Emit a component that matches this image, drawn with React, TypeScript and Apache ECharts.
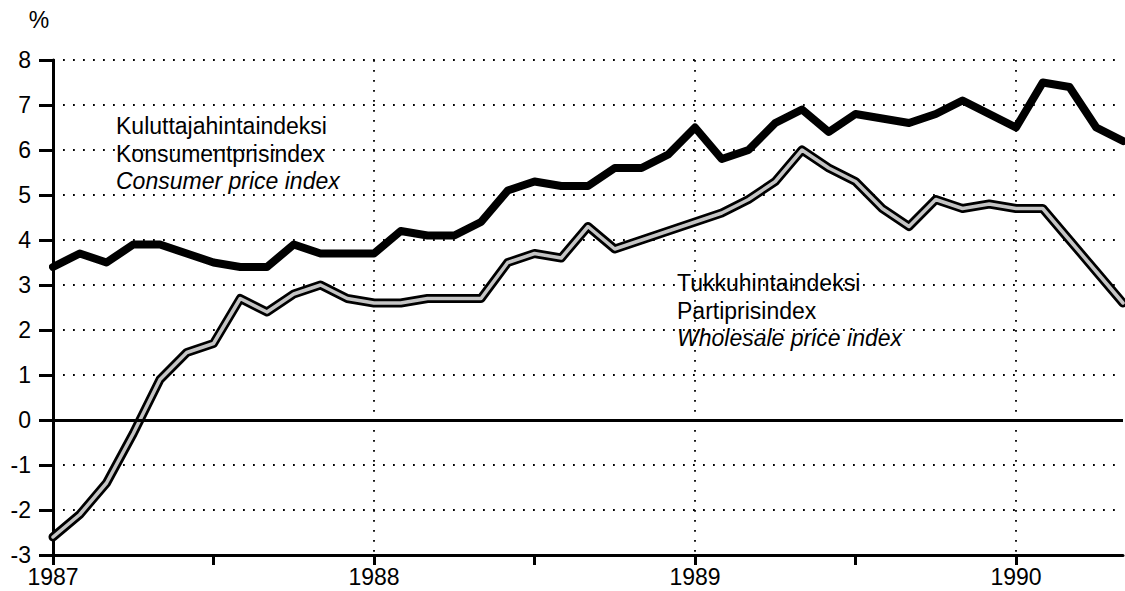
import React, { useEffect, useRef } from "react";
import * as echarts from "echarts";

const months: string[] = [
  "1987-01", "1987-02", "1987-03", "1987-04", "1987-05", "1987-06",
  "1987-07", "1987-08", "1987-09", "1987-10", "1987-11", "1987-12",
  "1988-01", "1988-02", "1988-03", "1988-04", "1988-05", "1988-06",
  "1988-07", "1988-08", "1988-09", "1988-10", "1988-11", "1988-12",
  "1989-01", "1989-02", "1989-03", "1989-04", "1989-05", "1989-06",
  "1989-07", "1989-08", "1989-09", "1989-10", "1989-11", "1989-12",
  "1990-01", "1990-02", "1990-03", "1990-04", "1990-05",
];

const consumerPrice: number[] = [
  3.4, 3.7, 3.5, 3.9, 3.9, 3.7, 3.5, 3.4, 3.4, 3.9, 3.7, 3.7,
  3.7, 4.2, 4.1, 4.1, 4.4, 5.1, 5.3, 5.2, 5.2, 5.6, 5.6, 5.9,
  6.5, 5.8, 6.0, 6.6, 6.9, 6.4, 6.8, 6.7, 6.6, 6.8, 7.1, 6.8,
  6.5, 7.5, 7.4, 6.5, 6.2,
];

const wholesalePrice: number[] = [
  -2.6, -2.1, -1.4, -0.3, 0.9, 1.5, 1.7, 2.7, 2.4, 2.8, 3.0, 2.7,
  2.6, 2.6, 2.7, 2.7, 2.7, 3.5, 3.7, 3.6, 4.3, 3.8, 4.0, 4.2,
  4.4, 4.6, 4.9, 5.3, 6.0, 5.6, 5.3, 4.7, 4.3, 4.9, 4.7, 4.8,
  4.7, 4.7, 4.0, 3.3, 2.6,
];

const consumerLabels: string[] = ["Kuluttajahintaindeksi", "Konsumentprisindex", "Consumer price index"];
const wholesaleLabels: string[] = ["Tukkuhintaindeksi", "Partiprisindex", "Wholesale price index"];

const FONT = "'Liberation Sans', Arial, Helvetica, sans-serif";

export default function App() {
  const ref = useRef<HTMLDivElement>(null);

  useEffect(() => {
    if (!ref.current) return;
    const chart = echarts.init(ref.current, undefined, { renderer: "svg" });

    const dotted = { color: "#000", width: 1.8, type: [1.8, 8.2] as number[] };

    const textEl = (txt: string, x: number, y: number, italic: boolean, align: string = "left") => ({
      type: "text",
      x,
      y,
      silent: true,
      z: 10,
      style: {
        text: txt,
        fill: "#000",
        font: `${italic ? "italic " : ""}23px ${FONT}`,
        align,
        verticalAlign: "middle",
        textAlign: align,
        textVerticalAlign: "middle",
      },
    });

    const option: any = {
      animation: false,
      backgroundColor: "#fff",
      grid: { left: 53, right: 2, top: 60, bottom: 36, containLabel: false },
      xAxis: {
        type: "category",
        data: months,
        boundaryGap: false,
        axisLine: { show: true, onZero: false, lineStyle: { color: "#000", width: 3 } },
        axisTick: {
          show: true,
          interval: (i: number) => i % 6 === 0,
          length: 10,
          lineStyle: { color: "#000", width: 3 },
        },
        axisLabel: {
          show: true,
          interval: (i: number) => i % 12 === 0,
          formatter: (v: string) => (v.endsWith("-01") ? v.slice(0, 4) : ""),
          color: "#000",
          fontSize: 23,
          fontFamily: FONT,
          margin: 10,
        },
        splitLine: {
          show: true,
          interval: (i: number) => i % 12 === 0 && i > 0,
          lineStyle: dotted,
        },
      },
      yAxis: {
        type: "value",
        min: -3,
        max: 8,
        interval: 1,
        axisLine: { show: true, lineStyle: { color: "#000", width: 3 } },
        axisTick: { show: true, length: 14, lineStyle: { color: "#000", width: 3 } },
        axisLabel: { color: "#000", fontSize: 23, fontFamily: FONT, margin: 22 },
        splitLine: { show: true, lineStyle: dotted },
      },
      series: [
        {
          name: "zero",
          type: "line",
          data: consumerPrice,
          symbol: "none",
          silent: true,
          z: 1,
          lineStyle: { width: 0, opacity: 0 },
          markLine: {
            silent: true,
            symbol: ["none", "none"],
            label: { show: false },
            lineStyle: { color: "#000", width: 3, type: "solid" },
            data: [{ yAxis: 0 }],
          },
        },
        {
          name: "Wholesale outer",
          type: "line",
          data: wholesalePrice,
          symbol: "none",
          silent: true,
          z: 3,
          lineStyle: { color: "#000", width: 9, join: "round", cap: "round" },
        },
        {
          name: "Wholesale inner",
          type: "line",
          data: wholesalePrice,
          symbol: "none",
          silent: true,
          z: 4,
          lineStyle: { color: "#c4c4c4", width: 3.5, join: "round", cap: "round" },
        },
        {
          name: "Consumer",
          type: "line",
          data: consumerPrice,
          symbol: "none",
          silent: true,
          z: 5,
          lineStyle: { color: "#000", width: 8, join: "round", cap: "round" },
        },
      ],
      graphic: [
        textEl("%", 39, 20, false, "center"),
        textEl(consumerLabels[0], 116, 126, false),
        textEl(consumerLabels[1], 116, 154, false),
        textEl(consumerLabels[2], 116, 181, true),
        textEl(wholesaleLabels[0], 677, 283, false),
        textEl(wholesaleLabels[1], 677, 311, false),
        textEl(wholesaleLabels[2], 677, 338, true),
      ],
    };

    chart.setOption(option);
    return () => chart.dispose();
  }, []);

  return (
    <div
      ref={ref}
      style={{ position: "fixed", left: 0, top: 0, width: 1125, height: 591, background: "#fff" }}
    />
  );
}
